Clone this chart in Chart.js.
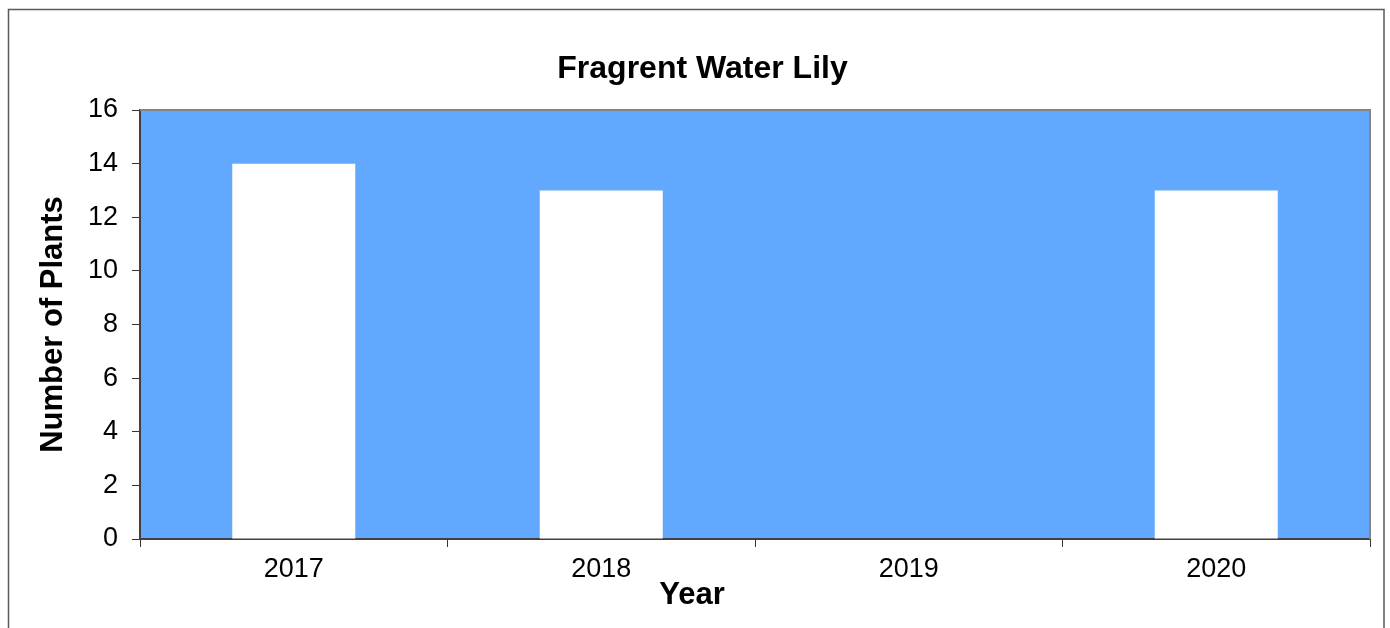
<!DOCTYPE html>
<html>
<head>
<meta charset="utf-8">
<script src="https://cdn.jsdelivr.net/npm/chart.js@4"></script>
<style>
  body { margin: 0; background: #fff; }
  canvas { display: block; }
</style>
</head>
<body>
<canvas id="bar_chart" width="1390" height="628"></canvas>
<script>
var years = ["2017", "2018", "2019", "2020"];
var plants = [14, 13, 0, 13];
var yTicks = [0, 2, 4, 6, 8, 10, 12, 14, 16];
var xTitle = "Year";

var FONT = "'Liberation Sans', Arial, sans-serif";

// blue plot background, grey frame, outer chart border and the x title
var framePlugin = {
    id: 'frame',
    beforeDraw: function (chart) {
        var ctx = chart.ctx, a = chart.chartArea;
        ctx.save();
        ctx.fillStyle = '#fff';
        ctx.fillRect(0, 0, chart.width, chart.height);
        ctx.strokeStyle = '#5a5a5a';
        ctx.lineWidth = 1.5;
        ctx.strokeRect(8.5, 9.5, 1375.5, 700);
        ctx.fillStyle = '#62a8ff';
        ctx.fillRect(a.left, a.top, a.right - a.left, a.bottom - a.top);
        ctx.restore();
    },
    afterDatasetsDraw: function (chart) {
        var ctx = chart.ctx, a = chart.chartArea;
        ctx.save();
        ctx.strokeStyle = '#858585';
        ctx.lineWidth = 2;
        ctx.beginPath();
        ctx.moveTo(a.left, a.top);
        ctx.lineTo(a.right, a.top);
        ctx.lineTo(a.right, a.bottom);
        ctx.stroke();
        ctx.restore();
    },
    afterDraw: function (chart) {
        var ctx = chart.ctx;
        ctx.save();
        ctx.fillStyle = '#000';
        ctx.font = "bold 31px " + FONT;
        ctx.textAlign = 'center';
        ctx.textBaseline = 'middle';
        ctx.fillText(xTitle, chart.width / 2 - 3, 595);
        ctx.restore();
    }
};

new Chart(document.getElementById("bar_chart").getContext("2d"), {
    type: 'bar',
    data: {
        labels: years,
        datasets: [{
            label: "Number of Plants",
            data: plants,
            backgroundColor: '#ffffff',
            borderWidth: 0,
            barPercentage: 0.4,
            categoryPercentage: 1
        }]
    },
    options: {
        responsive: false,
        animation: false,
        layout: { padding: { left: 35, right: 20, top: 50, bottom: 15 } },
        plugins: {
            legend: { display: false },
            tooltip: { enabled: false },
            title: {
                display: true,
                text: "Fragrent Water Lily",
                color: '#000',
                font: { family: FONT, size: 32, weight: 'bold' },
                padding: { top: 0, bottom: 21.6 }
            }
        },
        scales: {
            x: {
                grid: { offset: true, drawOnChartArea: false, drawTicks: true, tickLength: 8, color: '#333' },
                border: { color: '#404040', width: 2 },
                ticks: { color: '#000', font: { family: FONT, size: 27 }, padding: 6 },
                afterFit: function (s) { s.height = 74; }
            },
            y: {
                min: 0,
                max: 16,
                afterBuildTicks: function (s) {
                    s.ticks = yTicks.map(function (v) { return { value: v }; });
                },
                grid: { drawOnChartArea: false, drawTicks: true, tickLength: 8, color: '#333' },
                border: { color: '#404040', width: 2 },
                ticks: { color: '#000', font: { family: FONT, size: 27 }, padding: 14 },
                title: {
                    display: true, text: "Number of Plants", color: '#000',
                    font: { family: FONT, size: 31, weight: 'bold' },
                    padding: { top: 0, bottom: 0 }
                },
                afterFit: function (s) { s.width = 105; }
            }
        }
    },
    plugins: [framePlugin]
});
</script>
</body>
</html>
